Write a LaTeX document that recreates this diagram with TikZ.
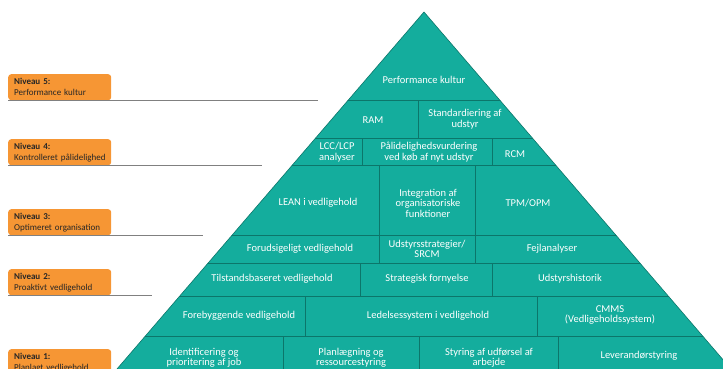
\documentclass[tikz,border=0pt]{standalone}
\usepackage{fontspec}
\setmainfont{Carlito}
\definecolor{pyrteal}{RGB}{20,173,157}
\definecolor{pyrline}{RGB}{12,118,106}
\definecolor{levorange}{RGB}{246,150,52}
\definecolor{guidegray}{RGB}{128,128,128}
\tikzset{
  cell/.style={text=white,align=center,inner sep=0pt,font=\fontsize{10.5}{10.5}\selectfont},
  level/.style={fill=levorange,rounded corners=3pt,anchor=north west,minimum width=103pt,
    minimum height=26pt,text width=91pt,inner xsep=6pt,inner ysep=3pt,align=left,
    text=black!85,font=\fontsize{9}{11}\selectfont},
  divider/.style={draw=pyrline,line width=0.8pt},
  guide/.style={draw=guidegray,line width=1.1pt}
}
\begin{document}
\begin{tikzpicture}[x=1pt,y=-1pt]
\useasboundingbox (0,0) rectangle (723,369);
\clip (0,0) rectangle (723,369);
% pyramid body
\coordinate (apex) at (424,12);
\coordinate (baseL) at (80,412);
\coordinate (baseR) at (768,412);
\fill[pyrteal] (apex) -- (baseL) -- (baseR) -- cycle;
\begin{scope}
\clip (apex) -- (baseL) -- (baseR) -- cycle;
\foreach \y in {100,138,165,235,263,296,336}
\draw[divider] (0,\y) -- (723,\y);
\foreach \x/\ya/\yb in {418/100/138, 362/138/165, 492/138/165, 379/165/263, 475/165/263,
  360/263/296, 492/263/296, 305/296/336, 537/296/336, 283/336/412, 419/336/412, 558/336/412}
\draw[divider] (\x,\ya) -- (\x,\yb);
\end{scope}
\draw[pyrline,line width=0.6pt] (baseL) -- (apex) -- (baseR);
% cells
\node[cell] (perf) at (424,80) {Performance kultur};
\node[cell] (ram) at (373,120) {RAM};
\node[cell] (std) at (465,119) {Standardiering af\\udstyr};
\node[cell] (lcc) at (337,152) {LCC/LCP\\analyser};
\node[cell] (paal) at (429,152) {Pålidelighedsvurdering\\ved køb af nyt udstyr};
\node[cell] (rcm) at (515,154) {RCM};
\node[cell] (lean) at (318,203) {LEAN i vedligehold};
\node[cell] (integ) at (428,203) {Integration af\\organisatoriske\\funktioner};
\node[cell] (tpm) at (528,203) {TPM/OPM};
\node[cell] (forud) at (300,249) {Forudsigeligt vedligehold};
\node[cell] (srcm) at (427,249) {Udstyrsstrategier/\\SRCM};
\node[cell] (fejl) at (552,249) {Fejlanalyser};
\node[cell] (tilst) at (272,279) {Tilstandsbaseret vedligehold};
\node[cell] (strat) at (427,279) {Strategisk fornyelse};
\node[cell] (histo) at (570,279) {Udstyrshistorik};
\node[cell] (forebyg) at (239,316) {Forebyggende vedligehold};
\node[cell] (ledelse) at (428,316) {Ledelsessystem i vedligehold};
\node[cell] (cmms) at (610,315) {CMMS\\(Vedligeholdssystem)};
\node[cell] (ident) at (204,358) {Identificering og\\prioritering af job};
\node[cell] (plan) at (351,358) {Planlægning og\\ressourcestyring};
\node[cell] (styr) at (489,358) {Styring af udførsel af\\arbejde};
\node[cell] (lever) at (639,356) {Leverandørstyring};
% levels
\foreach \n/\y/\txt in {5/74/Performance kultur, 4/139/Kontrolleret pålidelighed,
  3/209/Optimeret organisation, 2/269/Proaktivt vedligehold, 1/349/Planlagt vedligehold}
\node[level] (niv\n) at (8,\y) {\textbf{Niveau \n:}\\\mbox{\txt}};
\foreach \n/\len in {5/310, 4/254, 3/195, 2/144}
\draw[guide] (niv\n.south west) -- ++(\len,0);
\end{tikzpicture}
\end{document}
